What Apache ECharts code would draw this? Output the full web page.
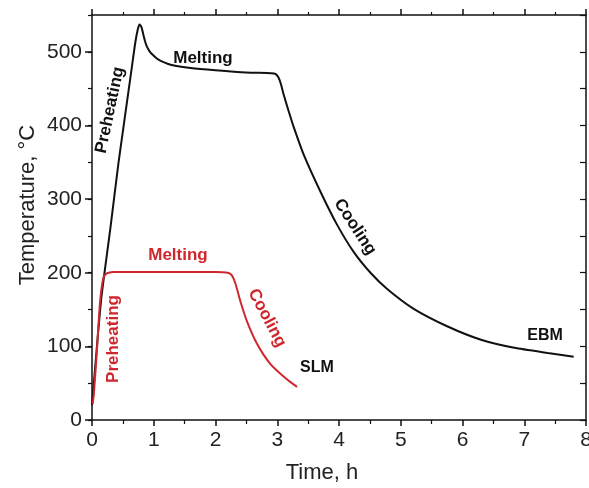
<!DOCTYPE html>
<html>
<head>
<meta charset="utf-8">
<script src="https://cdn.jsdelivr.net/npm/echarts@6/dist/echarts.min.js"></script>
<style>
  html, body { margin: 0; padding: 0; background: #fff; }
  #chart { width: 589px; height: 488px; }
</style>
</head>
<body>
<div id="chart"></div>
<script>
// EBM run (black)
let ebmTime = [0, 0.05, 0.1, 0.15, 0.21, 0.3, 0.43, 0.5, 0.59, 0.65, 0.7, 0.74, 0.77, 0.8, 0.83, 0.86, 0.89, 0.93, 0.97, 1.05, 1.13, 1.29, 1.6, 2.0, 2.5, 2.9, 2.97, 3.02, 3.06, 3.1, 3.19, 3.27, 3.43, 3.7, 3.97, 4.24, 4.51, 4.78, 5.21, 5.76, 6.3, 6.84, 7.38, 7.8]
let ebmTemp = [20, 70, 120, 165, 205, 262, 350, 392, 446, 482, 512, 530, 537, 534, 524, 514, 507, 501, 497, 491, 487, 482, 478, 475, 472, 471, 470, 465, 456, 443, 418, 397, 360, 310, 265, 228, 200, 178, 151, 127, 109, 98, 91, 86]
// SLM run (red)
let slmTime = [0.01, 0.03, 0.08, 0.13, 0.18, 0.22, 0.27, 0.35, 1.0, 2.0, 2.2, 2.26, 2.32, 2.4, 2.51, 2.67, 2.89, 3.16, 3.32]
let slmTemp = [22, 35, 95, 160, 192, 198, 200, 201, 201, 201, 200, 197, 186, 162, 134, 104, 76, 55, 45]

let timeTicks = [0, 1, 2, 3, 4, 5, 6, 7, 8]
let tempTicks = [0, 100, 200, 300, 400, 500]

function pairs(xs, ys) {
    let out = []
    for (let i = 0; i < xs.length; i++) {
        out.push([xs[i], ys[i]])
    }
    return out
}

let black = '#111'
let red = '#d0262d'
let font = '"Liberation Sans", Arial, sans-serif'

function label(text, x, y, deg, color, size) {
    return {
        type: 'text',
        x: x,
        y: y,
        rotation: deg * Math.PI / 180,
        style: {
            text: text,
            x: 0,
            y: 0,
            fill: color,
            font: 'bold ' + size + 'px ' + font,
            align: 'center',
            verticalAlign: 'middle'
        }
    }
}

let lineAxis = {show: true, onZero: false, lineStyle: {color: black, width: 1.5}}

let myChart = echarts.init(document.getElementById('chart'))
let option = {
    backgroundColor: '#fff',
    animation: false,
    grid: {left: 92, right: 3, top: 15, bottom: 68, containLabel: false, outerBoundsMode: 'none'},
    xAxis: [
        {
            type: 'value', position: 'bottom', min: 0, max: 8, interval: 1,
            axisLine: lineAxis,
            axisTick: {show: true, inside: false, length: 6, lineStyle: {color: black, width: 1.5}},
            minorTick: {show: true, splitNumber: 2, length: 4, lineStyle: {color: black, width: 1.2}},
            axisLabel: {
                customValues: timeTicks,
                fontSize: 21, color: '#222', margin: 10, fontFamily: font
            },
            splitLine: {show: false}
        },
        {
            type: 'value', position: 'top', min: 0, max: 8, interval: 1,
            axisLine: lineAxis,
            axisTick: {show: true, inside: false, length: 6, lineStyle: {color: black, width: 1.5}},
            minorTick: {show: true, splitNumber: 2, length: 3, lineStyle: {color: black, width: 1.2}},
            axisLabel: {show: false},
            splitLine: {show: false}
        }
    ],
    yAxis: [
        {
            type: 'value', position: 'left', min: 0, max: 550, interval: 50,
            axisLine: lineAxis,
            axisTick: {show: true, inside: false, length: 4, lineStyle: {color: black, width: 1.2}},
            axisLabel: {
                customValues: tempTicks,
                fontSize: 21, color: '#222', margin: 10, fontFamily: font
            },
            splitLine: {show: false}
        },
        {
            // longer ticks at every 100
            type: 'value', position: 'left', min: 0, max: 550,
            axisLine: {show: false, onZero: false},
            axisTick: {show: true, inside: false, length: 7, customValues: tempTicks, lineStyle: {color: black, width: 1.5}},
            axisLabel: {show: false},
            splitLine: {show: false}
        },
        {
            type: 'value', position: 'right', min: 0, max: 550, interval: 50,
            axisLine: lineAxis,
            axisTick: {show: true, inside: true, length: 6, lineStyle: {color: black, width: 1.2}},
            axisLabel: {show: false},
            splitLine: {show: false}
        }
    ],
    series: [
        {
            name: 'EBM',
            type: 'line',
            data: pairs(ebmTime, ebmTemp),
            showSymbol: false,
            smooth: 0.2,
            lineStyle: {color: black, width: 2}
        },
        {
            name: 'SLM',
            type: 'line',
            data: pairs(slmTime, slmTemp),
            showSymbol: false,
            smooth: 0.2,
            lineStyle: {color: red, width: 2}
        }
    ],
    graphic: [
        label('Preheating', 110, 110, 78, black, 17),
        label('Melting', 203, 58, 0, black, 17),
        label('Cooling', 355, 227, -57, black, 17),
        label('EBM', 545, 336, 0, black, 16),
        label('Preheating', 113, 339, 90, red, 17),
        label('Melting', 178, 255, 0, red, 17),
        label('Cooling', 267, 318, -62, red, 17),
        label('SLM', 317, 368, 0, black, 16),
        {
            type: 'text', x: 28, y: 205, rotation: Math.PI / 2,
            style: {text: 'Temperature, °C', x: 0, y: 0, fill: '#222', font: '22px ' + font, align: 'center', verticalAlign: 'middle'}
        },
        {
            type: 'text', x: 322, y: 473,
            style: {text: 'Time, h', x: 0, y: 0, fill: '#222', font: '22px ' + font, align: 'center', verticalAlign: 'middle'}
        }
    ]
}

myChart.setOption(option)
</script>
</body>
</html>
